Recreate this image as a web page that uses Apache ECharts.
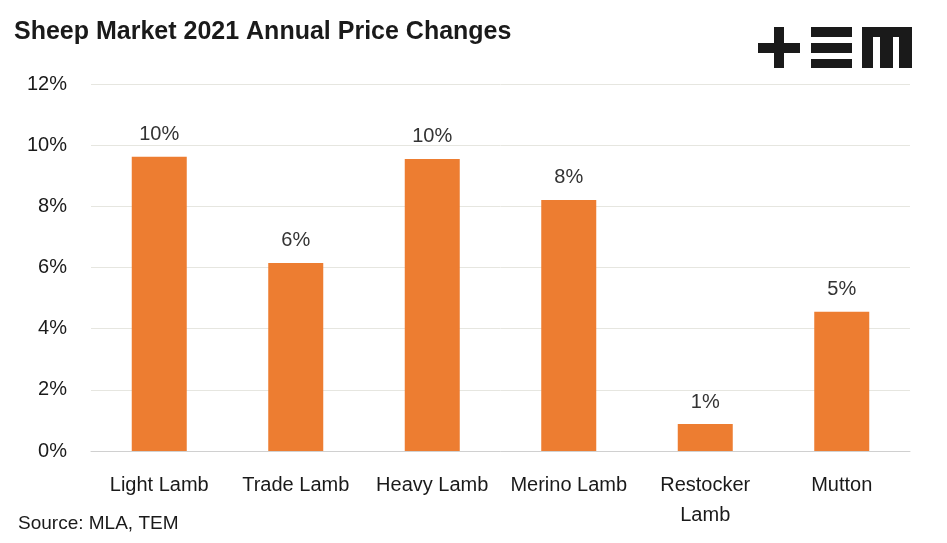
<!DOCTYPE html>
<html><head><meta charset="utf-8">
<script src="https://cdn.jsdelivr.net/npm/echarts@6/dist/echarts.min.js"></script>
<style>html,body{margin:0;padding:0;background:#fff}#c{width:947px;height:543px}</style>
</head><body><div id="c"></div>
<script>
const categories = ['Light Lamb', 'Trade Lamb', 'Heavy Lamb', 'Merino Lamb', 'Restocker\nLamb', 'Mutton'];
const values = [9.62, 6.15, 9.55, 8.21, 0.88, 4.55];
const yTicks = [0, 2, 4, 6, 8, 10, 12];
const F = 'Liberation Sans';
const chart = echarts.init(document.getElementById('c'));
const dark = '#1a1a1a';
chart.setOption({
  animation: false,
  title: {text: 'Sheep Market 2021 Annual Price Changes', left: 9, top: 15,
    textStyle: {fontFamily: F, fontSize: 25, fontWeight: 'bold', color: '#1a1a1a'}},
  grid: {left: 91, right: 37, top: 84, bottom: 92},
  xAxis: {type: 'category', data: categories,
    axisLine: {lineStyle: {color: '#d0d0d0', width: 1}}, axisTick: {show: false},
    axisLabel: {fontFamily: F, fontSize: 20, color: '#1a1a1a', margin: 19, lineHeight: 30, interval: 0}},
  yAxis: {type: 'value', min: yTicks[0], max: yTicks[yTicks.length - 1], interval: 2,
    axisLine: {show: false}, axisTick: {show: false},
    splitLine: {lineStyle: {color: '#e6e6e0'}},
    axisLabel: {fontFamily: F, fontSize: 20, color: '#1a1a1a', margin: 24, formatter: v => v + '%'}},
  series: [{type: 'bar', data: values, barWidth: 55, itemStyle: {color: '#ed7d31'},
    label: {show: true, position: 'top', distance: 12, fontFamily: F, fontSize: 20, color: '#333',
      formatter: p => Math.round(p.value) + '%'}}],
  graphic: [
    {type: 'text', left: 18, top: 514, style: {text: 'Source: MLA, TEM', font: '19px "Liberation Sans"', fill: '#1a1a1a'}},
    {type: 'rect', shape: {x: 758, y: 43, width: 42, height: 10}, style: {fill: dark}},
    {type: 'rect', shape: {x: 774, y: 27, width: 10, height: 41}, style: {fill: dark}},
    {type: 'rect', shape: {x: 811, y: 27, width: 41, height: 10}, style: {fill: dark}},
    {type: 'rect', shape: {x: 811, y: 43, width: 41, height: 10}, style: {fill: dark}},
    {type: 'rect', shape: {x: 811, y: 59, width: 41, height: 9}, style: {fill: dark}},
    {type: 'rect', shape: {x: 862, y: 27, width: 50, height: 10}, style: {fill: dark}},
    {type: 'rect', shape: {x: 862, y: 27, width: 11, height: 41}, style: {fill: dark}},
    {type: 'rect', shape: {x: 880, y: 27, width: 13, height: 41}, style: {fill: dark}},
    {type: 'rect', shape: {x: 899, y: 27, width: 13, height: 41}, style: {fill: dark}}
  ]
});
</script></body></html>
